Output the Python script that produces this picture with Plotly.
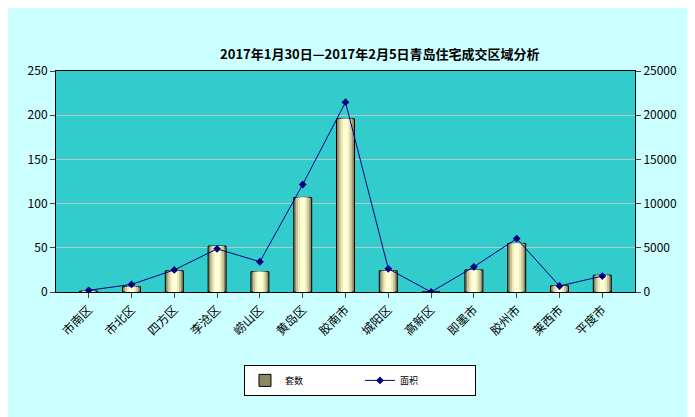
import plotly.graph_objects as go

districts = ["市南区","市北区","四方区","李沧区","崂山区","黄岛区","胶南市","城阳区","高新区","即墨市","胶州市","莱西市","平度市"]
units = [1, 6, 24, 52, 23, 107, 196, 24, 0, 25, 55, 7, 19]
area = [190, 860, 2500, 4880, 3420, 12160, 21470, 2630, 0, 2850, 6040, 680, 1800]

fig = go.Figure()
fig.add_trace(go.Bar(x=districts, y=units, name="套数", width=0.42,
                     marker=dict(color="#8c8766", line=dict(color="black", width=1))))
for w, c in [(0.32, "#c8c498"), (0.22, "#ecE9bb"), (0.12, "#ffffd6")]:
    fig.add_trace(go.Bar(x=districts, y=units, width=w, showlegend=False, hoverinfo="skip",
                         marker=dict(color=c, line=dict(width=0))))
fig.add_trace(go.Scatter(x=districts, y=area, name="面积", yaxis="y2", mode="lines+markers",
                         line=dict(color="#000080", width=1),
                         marker=dict(symbol="diamond", size=6, color="#000080")))
fig.update_layout(
    width=695, height=417, barmode="overlay",
    paper_bgcolor="#CCFFFF", plot_bgcolor="#33CCCC",
    margin=dict(l=48, r=68, t=63, b=133, autoexpand=False),
    font=dict(family="Noto Sans CJK SC, Liberation Sans", size=12, color="black"),
    title=dict(text="<b>2017年1月30日—2017年2月5日青岛住宅成交区域分析</b>", x=0.535, y=0.9, xanchor="center", font=dict(size=13)),
    xaxis=dict(tickangle=-45, showline=True, linecolor="black", ticks="outside", tickfont=dict(size=12), mirror=True, automargin=False),
    yaxis=dict(range=[0, 250], dtick=50, showline=True, linecolor="black", ticks="outside",
               gridcolor="#B8C8C8", zeroline=False, mirror=True, automargin=False),
    yaxis2=dict(range=[0, 25000], dtick=5000, tickformat="d", overlaying="y", side="right", showline=True,
                linecolor="black", ticks="outside", showgrid=False, zeroline=False, automargin=False),
    legend=dict(orientation="h", x=0.525, y=-0.40, xanchor="center", yanchor="middle",
                bgcolor="white", bordercolor="black", borderwidth=1, font=dict(size=9),
                entrywidth=70),
    bargap=0.6,
)
fig.write_html("out.html")
